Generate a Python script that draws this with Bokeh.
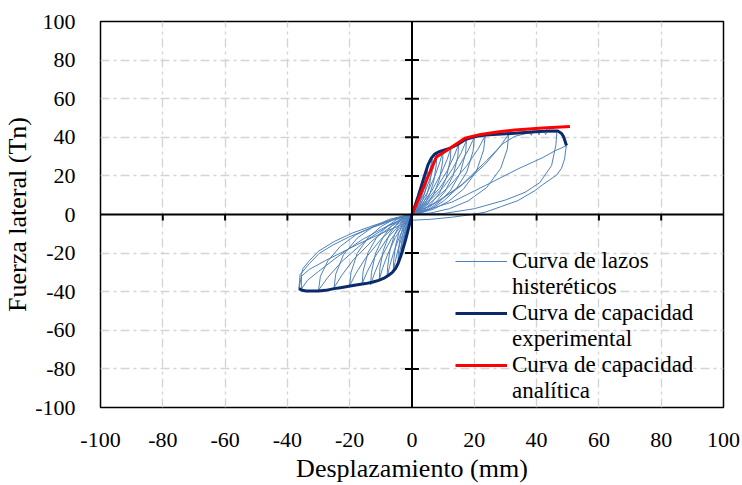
import math

from bokeh.plotting import figure
from bokeh.models import Span, Legend, LegendItem, FixedTicker
from bokeh.embed import file_html
from bokeh.resources import INLINE

# ---- data -----------------------------------------------------------------
axis_ticks = [-100, -80, -60, -40, -20, 0, 20, 40, 60, 80, 100]
grid_ticks = [-80, -60, -40, -20, 20, 40, 60, 80]
zero_ticks = [-80, -60, -40, -20, 20, 40, 60, 80]

# Analytical capacity curve (displacement mm, force Tn)
analitica_x = [0, 7.8, 11, 17, 22, 28, 33, 42, 50.7]
analitica_y = [0, 29.8, 33, 39.5, 41.5, 42.9, 43.8, 44.8, 45.6]

# Experimental capacity envelope, positive branch
exp_pos_x = [0, 2, 4, 5.2, 6.2, 7.3, 8.5, 10, 12, 14.5, 17, 20, 23.5, 28.8,
             33, 39.5, 43, 46.9, 48, 48.6, 49.6]
exp_pos_y = [0, 9.5, 20, 26, 29.2, 31.3, 32.4, 33.2, 34.2, 36.2, 38.8, 40.3,
             41.2, 41.7, 42.1, 42.9, 43.2, 43.2, 42, 40.5, 35.7]

# Experimental capacity envelope, negative branch
exp_neg_x = [0, -1, -2.1, -3, -3.7, -4.5, -5.3, -6.3, -7.5, -9, -10.7, -12.5,
             -14.9, -17.5, -20.3, -23, -25, -27.7, -30, -32, -34, -35.2, -36.3]
exp_neg_y = [0, -6.5, -13.4, -18.5, -22, -25.5, -28, -30, -31.5, -33, -34.1,
             -35, -35.8, -36.4, -37.2, -37.9, -38.4, -39.3, -39.6, -39.7,
             -39.6, -39.3, -38.4]

# Hysteresis loops, one list per cycle
lazos_x = [
    [0, 0.5, 1, 1.5, 1.8, 2, 1.96, 1.76, 1.4, 1, 0.6, 0.24, 0,
     -0.4, -0.8, -1.1, -1.4, -1.5, -1.5, -1.3, -1.1, -0.8, -0.5, -0.2, 0],
    [0, 0.9, 1.8, 2.6, 3.2, 3.5, 3.4, 3.1, 2.5, 1.8, 1.1, 0.4, 0,
     -0.6, -1.3, -1.9, -2.3, -2.5, -2.5, -2.2, -1.8, -1.3, -0.8, -0.3, 0],
    [0, 1.3, 2.5, 3.8, 4.5, 5, 4.9, 4.4, 3.5, 2.5, 1.5, 0.6, 0,
     -0.9, -1.8, -2.6, -3.2, -3.5, -3.4, -3.1, -2.5, -1.8, -1.1, -0.4, 0],
    [0, 1.6, 3.3, 4.9, 5.9, 6.5, 6.4, 5.7, 4.6, 3.3, 2, 0.8, 0,
     -1.1, -2.3, -3.4, -4.1, -4.5, -4.4, -4, -3.2, -2.3, -1.4, -0.5, 0],
    [0, 2, 4, 6, 7.2, 8, 7.8, 7, 5.6, 4, 2.4, 1, 0,
     -1.5, -3, -4.5, -5.4, -6, -5.9, -5.3, -4.2, -3, -1.8, -0.7, 0],
    [0, 2.5, 5, 7.5, 9, 10, 9.8, 8.8, 7, 5, 3, 1.2, 0,
     -2, -4, -6, -7.2, -8, -7.8, -7, -5.6, -4, -2.4, -1, 0],
    [0, 3.1, 6.3, 9.4, 11.3, 12.5, 12.3, 11, 8.8, 6.3, 3.8, 1.5, 0,
     -2.6, -5.3, -7.9, -9.5, -10.5, -10.3, -9.2, -7.4, -5.3, -3.2, -1.3, 0],
    [0, 3.8, 7.5, 11.3, 13.5, 15, 14.7, 13.2, 10.5, 7.5, 4.5, 1.8, 0,
     -3.3, -6.7, -10, -12, -13.3, -13, -11.7, -9.3, -6.7, -4, -1.6, 0],
    [0, 4.4, 8.8, 13.1, 15.8, 17.5, 17.2, 15.4, 12.3, 8.8, 5.3, 2.1, 0,
     -4, -8, -12, -14.4, -16, -15.7, -14.1, -11.2, -8, -4.8, -1.9, 0],
    [0, 5, 10, 15, 18, 20, 19.6, 17.6, 14, 10, 6, 2.4, 0,
     -5, -10, -15, -18, -20, -19.6, -17.6, -14, -10, -6, -2.4, 0],
    [0, 5.9, 11.8, 17.6, 21.2, 23.5, 23, 20.7, 16.5, 11.8, 7.1, 2.8, 0,
     -6.3, -12.5, -18.8, -22.5, -25, -24.5, -22, -17.5, -12.5, -7.5, -3, 0],
    [0, 7.8, 15.5, 23.3, 27.9, 31, 30.6, 28.5, 24, 18, 12, 6, 0,
     -7.5, -15, -22.5, -27, -30, -29.4, -27, -23, -18, -12, -6, 0],
    [0, 8, 16, 24, 29, 33, 36, 38, 38.3, 38.6, 40.5, 40.8, 41.1, 42.6, 42.9,
     43.2, 46.5, 46.2, 44.8, 41, 36.3, 30, 20, 10, 0,
     -8, -16, -24, -30, -33.5, -35.5, -35.5, -35, -33, -30, -25, -19, -12, -6, 0],
    [0, 12.8, 23.5, 34, 42, 45.9, 48, 49.6, 49.3, 49, 48, 46.5, 42, 39.5, 34,
     28.8, 23.5, 18, 12.8, 6, 2, 0,
     -8, -17, -27.7, -33, -35.5, -36.3, -35.9, -35.2, -33, -29.9, -25.6,
     -20.3, -13.9, -6.4, 0],
]
lazos_y = [
    [0, 1.4, 3.3, 5.9, 7.9, 9.5, 7.8, 5.2, 3, 1.6, 0.7, 0.2, 0,
     -1.5, -3.5, -6.2, -8.3, -10, -8.2, -5.5, -3.2, -1.7, -0.7, -0.2, 0],
    [0, 2.6, 6, 10.5, 14.1, 17, 13.9, 9.4, 5.4, 2.9, 1.2, 0.3, 0,
     -2.3, -5.4, -9.6, -12.9, -15.5, -12.7, -8.5, -5, -2.6, -1.1, -0.3, 0],
    [0, 3.7, 8.6, 15.2, 20.3, 24.5, 20.1, 13.5, 7.8, 4.2, 1.7, 0.5, 0,
     -3.1, -7.2, -12.7, -17, -20.5, -16.8, -11.3, -6.6, -3.5, -1.4, -0.4, 0],
    [0, 4.4, 10.2, 18, 24.1, 29, 23.8, 16, 9.3, 4.9, 2, 0.6, 0,
     -3.8, -8.8, -15.5, -20.8, -25, -20.5, -13.8, -8, -4.3, -1.8, -0.5, 0],
    [0, 4.7, 11, 19.5, 26.1, 31.5, 25.8, 17.3, 10.1, 5.4, 2.2, 0.6, 0,
     -4.4, -10.3, -18.3, -24.5, -29.5, -24.2, -16.2, -9.4, -5, -2.1, -0.6, 0],
    [0, 5, 11.6, 20.5, 27.4, 33, 27.1, 18.2, 10.6, 5.6, 2.3, 0.7, 0,
     -4.9, -11.4, -20.2, -27, -32.5, -26.7, -17.9, -10.4, -5.5, -2.3, -0.7, 0],
    [0, 5.2, 12.1, 21.4, 28.6, 34.5, 28.3, 19, 11, 5.9, 2.4, 0.7, 0,
     -5.1, -11.8, -21, -28.1, -33.8, -27.7, -18.6, -10.8, -5.7, -2.4, -0.7, 0],
    [0, 5.5, 12.8, 22.6, 30.3, 36.5, 29.9, 20.1, 11.7, 6.2, 2.6, 0.7, 0,
     -5.5, -12.8, -22.6, -30.3, -36.5, -29.9, -20.1, -11.7, -6.2, -2.6, -0.7, 0],
    [0, 5.8, 13.5, 23.9, 32, 38.5, 31.6, 21.2, 12.3, 6.5, 2.7, 0.8, 0,
     -5.4, -12.5, -22.2, -29.7, -35.8, -29.4, -19.7, -11.5, -6.1, -2.5, -0.7, 0],
    [0, 6, 14, 24.8, 33.2, 40, 32.8, 22, 12.8, 6.8, 2.8, 0.8, 0,
     -5.5, -12.9, -22.8, -30.5, -36.8, -30.2, -20.2, -11.8, -6.3, -2.6, -0.7, 0],
    [0, 6.1, 14.3, 25.3, 33.9, 40.8, 33.5, 22.4, 13.1, 6.9, 2.9, 0.8, 0,
     -5.7, -13.2, -23.4, -31.4, -37.8, -31, -20.8, -12.1, -6.4, -2.6, -0.8, 0],
    [0, 6.2, 14.5, 25.7, 34.4, 41.5, 34, 24, 14, 7, 3, 0.8, 0,
     -5.9, -13.7, -24.3, -32.5, -39.2, -32, -24, -16.5, -10.5, -6, -2.5, 0],
    [0, 6.5, 15.5, 28, 36.5, 40.5, 41.7, 42.3, 41, 42.4, 42.6, 41.3, 42.6, 42.7,
     41.4, 42.7, 42.8, 36, 25.3, 16.5, 11.5, 7.5, 3, 0.5, 0,
     -6, -13, -22, -29.5, -34, -38.5, -31, -28, -24, -19, -14, -9.5, -5.5, -2.5, 0],
    [0, 6.4, 15, 23.6, 29.5, 33, 34.5, 35.7, 33, 28.8, 24, 20.5, 15.5, 12.4,
     7.2, 4.2, 1.2, -0.3, -1.4, -2.5, -2.8, -3,
     -8.5, -15.1, -23.8, -28.5, -32, -38.4, -31, -29.8, -25.5, -20.3, -16,
     -11.7, -7.4, -3.1, 0],
]

# ---- figure ---------------------------------------------------------------
SERIF = "Liberation Serif"

p = figure(width=742, height=485, x_range=(-100, 100), y_range=(-100, 100),
           output_backend="svg", toolbar_location=None,
           min_border_left=98, min_border_right=19,
           min_border_top=21, min_border_bottom=77)

p.background_fill_color = "white"
p.border_fill_color = "white"
p.outline_line_color = "black"
p.outline_line_width = 1.5

# dash-dot grid
for grid in (p.xgrid, p.ygrid):
    grid.ticker = FixedTicker(ticks=grid_ticks)
    grid.grid_line_color = "#d4d4d4"
    grid.grid_line_width = 1.4
    grid.grid_line_dash = "9 4 3 4"

# tick labels written with a plain hyphen
tick_text = {t: str(t) for t in axis_ticks}

for ax in (p.xaxis, p.yaxis):
    ax.ticker = FixedTicker(ticks=axis_ticks)
    ax.major_label_overrides = tick_text
    ax.axis_line_color = None
    ax.major_tick_line_color = None
    ax.minor_tick_line_color = None
    ax.major_label_text_font = SERIF
    ax.major_label_text_font_size = "22px"
    ax.major_label_text_color = "black"
    ax.axis_label_text_font = SERIF
    ax.axis_label_text_font_size = "26px"
    ax.axis_label_text_font_style = "normal"
    ax.axis_label_text_color = "black"

p.xaxis.axis_label = "Desplazamiento (mm)"
p.yaxis.axis_label = "Fuerza lateral (Tn)"
p.xaxis.major_label_standoff = 19
p.xaxis.axis_label_standoff = 4
p.yaxis.major_label_standoff = 19
p.yaxis.axis_label_standoff = 0

# zero axes through the origin, with their tick marks
p.add_layout(Span(location=0, dimension="width", line_color="black", line_width=2))
p.add_layout(Span(location=0, dimension="height", line_color="black", line_width=2))

frame_h_px = 485 - 21 - 77
tick_len = 6 * 200 / frame_h_px
p.segment(x0=zero_ticks, y0=[0] * len(zero_ticks), x1=zero_ticks,
          y1=[-tick_len] * len(zero_ticks), line_color="black", line_width=2)
p.scatter(x=[0] * len(zero_ticks), y=zero_ticks, marker="dash", size=14,
          line_color="black", line_width=2)

# curves
lazos = p.multi_line(xs=lazos_x, ys=lazos_y, line_color="#4f81bd", line_width=1)
exp_pos = p.line(exp_pos_x, exp_pos_y, line_color="#0b2a6b", line_width=3,
                 line_join="round")
p.line(exp_neg_x, exp_neg_y, line_color="#0b2a6b", line_width=3, line_join="round")
ana = p.line(analitica_x, analitica_y, line_color="#ff0000", line_width=3,
             line_join="round")
blank = p.line(x=[0], y=[0], line_alpha=0)

legend = Legend(items=[
    LegendItem(label="Curva de lazos", renderers=[lazos]),
    LegendItem(label="histeréticos", renderers=[blank]),
    LegendItem(label="Curva de capacidad", renderers=[exp_pos]),
    LegendItem(label="experimental", renderers=[blank]),
    LegendItem(label="Curva de capacidad", renderers=[ana]),
    LegendItem(label="analítica", renderers=[blank]),
], location=(355, 3))
legend.border_line_color = None
legend.background_fill_alpha = 0
legend.padding = 0
legend.margin = 0
legend.spacing = 0
legend.glyph_width = 52
legend.glyph_height = 26
legend.label_height = 26
legend.label_standoff = 5
legend.label_text_font = SERIF
legend.label_text_font_size = "23px"
legend.label_text_color = "black"
legend.label_text_baseline = "middle"
p.add_layout(legend, "center")

open("out.html", "w").write(file_html(p, INLINE))
